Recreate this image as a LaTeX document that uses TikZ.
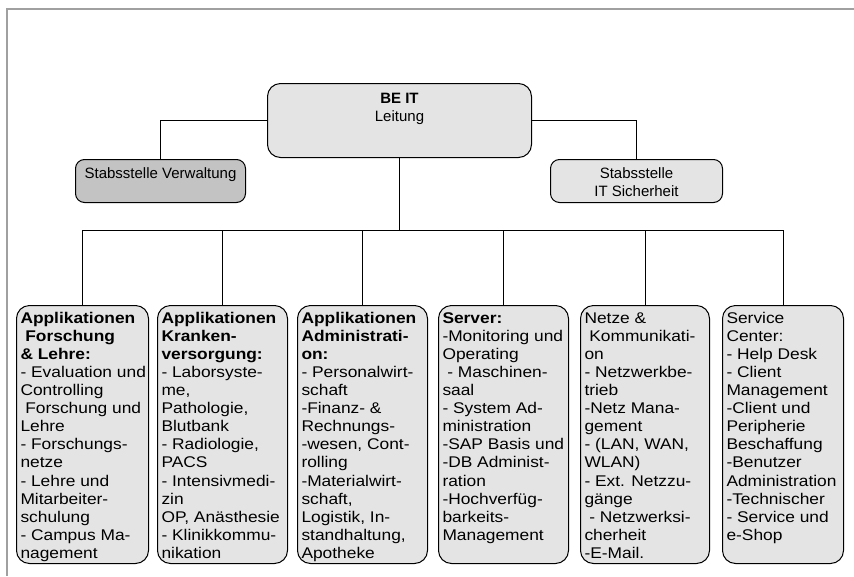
\documentclass[tikz,border=0pt]{standalone}
\usepackage{fontspec}
\setmainfont{Liberation Sans}
\newfontfamily\boxfont[FakeStretch=1.12]{Liberation Sans}
\definecolor{framegray}{HTML}{A0A0A0}
\definecolor{boxgray}{HTML}{E4E4E4}
\definecolor{darkgray}{HTML}{C3C3C3}
\newcommand{\btext}[2]{\begin{minipage}[c][258pt][t]{#1}\vspace*{5pt}\hspace*{4pt}\begin{tabular}[t]{@{}l@{}}#2\end{tabular}\end{minipage}}
\begin{document}
\begin{tikzpicture}[x=1pt,y=-1pt,
  frameline/.style={draw=framegray, line width=1.5pt},
  conn/.style={draw=black, line width=1pt},
  mainconn/.style={draw=black, line width=1.5pt},
  orgbox/.style={draw=black, line width=1pt, fill=boxgray, rounded corners=13pt, inner sep=0pt, anchor=north west},
  txt/.style={font=\fontsize{15}{17.7}\selectfont},
  btxt/.style={font=\boxfont\fontsize{15.5}{18.1}\selectfont}]
\useasboundingbox (0,0) rectangle (854,576);
\draw[frameline] (7,576) -- (7,9) -- (854,9);

% top level
\node[orgbox, txt] (beit) at (267,83) {\begin{minipage}[c][74pt][t]{264pt}\centering\vspace*{10pt}\textbf{BE IT}\\Leitung\end{minipage}};
\node[orgbox, txt, fill=darkgray, rounded corners=9pt] (sv) at (75,159) {\begin{minipage}[c][43pt][t]{170pt}\centering\vspace*{8pt}Stabsstelle Verwaltung\end{minipage}};
\node[orgbox, txt, rounded corners=9pt] (si) at (550,159) {\begin{minipage}[c][43pt][t]{172pt}\centering\vspace*{8pt}Stabsstelle\\IT Sicherheit\end{minipage}};

% bottom boxes
\node[orgbox, btxt] (b1) at (16,305) {\btext{132pt}{%
\textbf{Applikationen}\\
\textbf{\ Forschung}\\
\textbf{\& Lehre:}\\
- Evaluation und\\
Controlling\\
\ Forschung und\\
Lehre\\
- Forschungs-\\
netze\\
- Lehre und\\
Mitarbeiter-\\
schulung\\
- Campus Ma-\\
nagement}};
\node[orgbox, btxt] (b2) at (157,305) {\btext{130pt}{%
\textbf{Applikationen}\\
\textbf{Kranken-}\\
\textbf{versorgung:}\\
- Laborsyste-\\
me,\\
Pathologie,\\
Blutbank\\
- Radiologie,\\
PACS\\
- Intensivmedi-\\
zin\\
OP, Anästhesie\\
- Klinikkommu-\\
nikation}};
\node[orgbox, btxt] (b3) at (297,305) {\btext{130pt}{%
\textbf{Applikationen}\\
\textbf{Administrati-}\\
\textbf{on:}\\
- Personalwirt-\\
schaft\\
-Finanz- \&\\
Rechnungs-\\
-wesen, Cont-\\
rolling\\
-Materialwirt-\\
schaft,\\
Logistik, In-\\
standhaltung,\\
Apotheke}};
\node[orgbox, btxt] (b4) at (438,305) {\btext{130pt}{%
\textbf{Server:}\\
-Monitoring und\\
Operating\\
\ - Maschinen-\\
saal\\
- System Ad-\\
ministration\\
-SAP Basis und\\
-DB Administ-\\
ration\\
-Hochverfüg-\\
barkeits-\\
Management}};
\node[orgbox, btxt] (b5) at (580,305) {\btext{129pt}{%
Netze \&\\
\ Kommunikati-\\
on\\
- Netzwerkbe-\\
trieb\\
-Netz Mana-\\
gement\\
- (LAN, WAN,\\
WLAN)\\
- Ext. Netzzu-\\
gänge\\
\ - Netzwerksi-\\
cherheit\\
-E-Mail.}};
\node[orgbox, btxt] (b6) at (722,305) {\btext{121pt}{%
Service\\
Center:\\
- Help Desk\\
- Client\\
Management\\
-Client und\\
Peripherie\\
Beschaffung\\
-Benutzer\\
Administration\\
-Technischer\\
- Service und\\
e-Shop}};

% connectors
\coordinate (bus) at (0,230);
\draw[conn] (beit.west) -| (sv.north);
\draw[conn] (beit.east) -| (si.north);
\draw[mainconn] (beit.south) -- (beit.south |- bus);
\draw[conn] (b1.north) -- (b1.north |- bus) -- (b6.north |- bus) -- (b6.north);
\foreach \b in {b2,b3,b4,b5}{\draw[conn] (\b.north) -- (\b.north |- bus);}
\end{tikzpicture}
\end{document}
